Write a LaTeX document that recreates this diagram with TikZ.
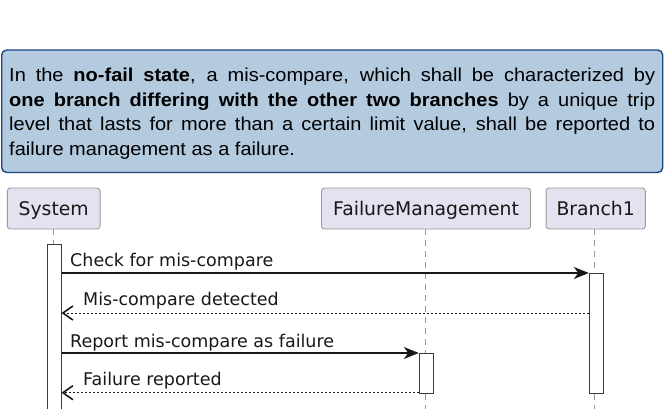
\documentclass[tikz,border=0pt]{standalone}
\usepackage{fontspec}
\setmainfont{DejaVu Sans}
\newfontfamily\notefont[FakeStretch=1.07]{Liberation Sans}
\usetikzlibrary{arrows.meta}
\definecolor{notefill}{HTML}{B3CADF}
\definecolor{noteedge}{HTML}{1C4587}
\definecolor{partfill}{HTML}{E2E2F0}
\definecolor{partedge}{HTML}{9A9A9A}
\definecolor{ink}{HTML}{181818}
\begin{document}
\begin{tikzpicture}[x=1pt,y=-1pt,
  participant/.style={draw=partedge, fill=partfill, rounded corners=3pt, line width=0.9pt,
    inner sep=0pt, minimum height=41pt, text height=13.7pt, text depth=0pt,
    font=\fontsize{18.8}{22}\selectfont, text=ink},
  activation/.style={draw=ink!85, fill=white, line width=1pt, inner sep=0pt,
    minimum width=14pt, anchor=north},
  lifeline/.style={draw=gray!80, line width=0.8pt, dash pattern=on 6pt off 5pt},
  call/.style={draw=ink, line width=1.1pt, -{Stealth[length=15pt,width=12pt,inset=4.5pt]}},
  reply/.style={draw=ink, line width=1pt, dash pattern=on 2pt off 2pt,
    -{Straight Barb[length=10pt,width=14pt,line width=1.6pt]}},
  msglabel/.style={anchor=base west, inner sep=0pt, font=\fontsize{17.5}{20}\selectfont, text=ink},
]
\useasboundingbox (0,0) rectangle (664,408);

% requirement note
\node[draw=noteedge, fill=notefill, rounded corners=5pt, line width=1.4pt,
      minimum width=661pt, minimum height=122.5pt, anchor=north west, inner sep=0pt]
      (note) at (1,49.3) {};
\node[anchor=base west, inner sep=0pt, text=black] (notetext) at (9,81.5)
  {\parbox[t]{646pt}{\notefont\fontsize{18.7}{24.6}\selectfont
   \makebox[646pt][s]{In the \textbf{no-fail state}, a mis-compare, which shall be characterized by}\\
   \makebox[646pt][s]{\textbf{one branch differing with the other two branches} by a unique trip}\\
   \makebox[646pt][s]{level that lasts for more than a certain limit value, shall be reported to}\\
   failure management as a failure.}};

% participants
\node[participant, minimum width=92.7pt] (sys) at (53.7,208.5) {System};
\node[participant, minimum width=209pt] (fm) at (426,208.5) {FailureManagement};
\node[participant, minimum width=99.3pt] (br) at (595.7,208.5) {Branch1};

% lifelines
\coordinate (bottom) at (0,410);
\draw[lifeline] (sys.south) -- (sys.south |- bottom);
\draw[lifeline] (fm.south -| 425,0) -- (425,410);
\draw[lifeline] (br.south -| 594.5,0) -- (594.5,410);

% activations
\node[activation, minimum height=170pt] (sysact) at (54,244) {};
\node[activation, minimum height=120pt] (bract) at (596.3,272.7) {};
\node[activation, minimum height=40pt] (fmact) at (426.3,352.7) {};

% messages
\coordinate (m1) at (0,273);
\coordinate (m2) at (0,313);
\coordinate (m3) at (0,353);
\coordinate (m4) at (0,392.7);
\draw[call] (sysact.east |- m1) -- (bract.west |- m1);
\node[msglabel] (l1) at (70,266.7) {Check for mis-compare};
\draw[reply] (bract.west |- m2) -- (sysact.east |- m2);
\node[msglabel] (l2) at (83,305.5) {Mis-compare detected};
\draw[call] (sysact.east |- m3) -- (fmact.west |- m3);
\node[msglabel] (l3) at (70,347) {Report mis-compare as failure};
\draw[reply] (fmact.west |- m4) -- (sysact.east |- m4);
\node[msglabel] (l4) at (83,385.5) {Failure reported};
\end{tikzpicture}
\end{document}
